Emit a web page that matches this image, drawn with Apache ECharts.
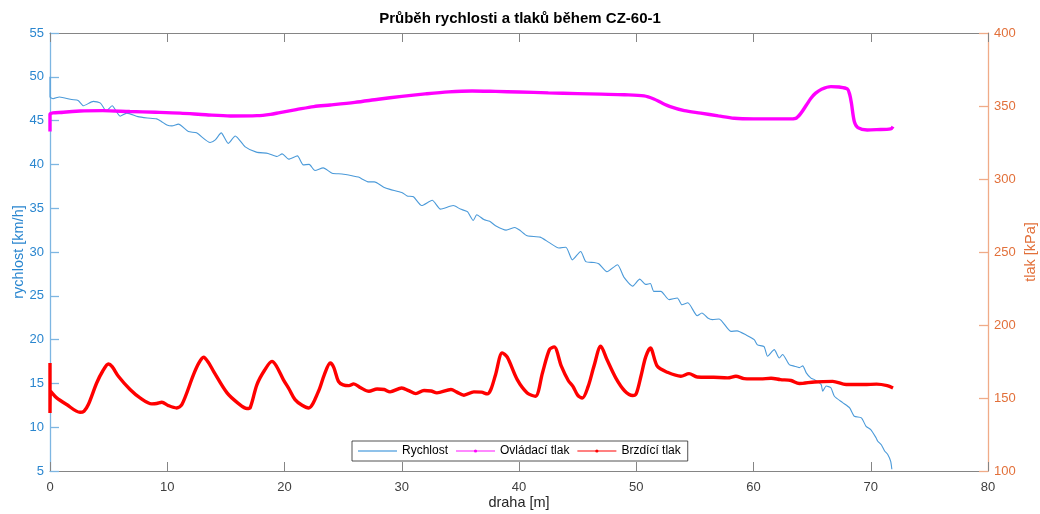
<!DOCTYPE html>
<html>
<head>
<meta charset="utf-8">
<script src="https://cdn.jsdelivr.net/npm/echarts@6/dist/echarts.min.js"></script>
<style>
html,body{margin:0;padding:0;background:#fff;}
#c{width:1040px;height:514px;}
</style>
</head>
<body>
<div id="c"></div>
<script>
// ---- data ----
const titleText = 'Průběh rychlosti a tlaků během CZ-60-1';
const seriesNames = ['Rychlost', 'Ovládací tlak', 'Brzdící tlak'];
const xTicks = [0, 10, 20, 30, 40, 50, 60, 70, 80];
const leftTicks = [5, 10, 15, 20, 25, 30, 35, 40, 45, 50, 55];
const rightTicks = [100, 150, 200, 250, 300, 350, 400];

// Rychlost [km/h] vs draha [m]
const speed = [
 [0,50.0],[0,47.7],[0.26,47.5],[0.8,47.7],[1.85,47.4],[2.4,47.3],[2.85,46.7],[3.7,47.2],[4.3,47.0],[4.8,46.1],
 [5.3,46.7],[5.98,45.5],[6.55,45.85],[7.5,45.45],[8.3,45.3],[9.1,45.2],[9.5,44.9],[9.97,44.5],[10.4,44.4],[10.95,44.6],
 [11.8,43.75],[12.5,43.6],[13.66,42.5],[14.1,42.8],[14.6,43.6],[15.2,42.4],[15.8,43.25],[16.65,42.0],[17.6,41.4],[18.6,41.25],
 [19.36,40.9],[19.8,41.2],[20.35,40.6],[21.1,40.97],[21.6,39.95],[22.1,40.0],[22.6,39.3],[23.3,39.6],[24.06,39.0],[24.9,38.9],
 [25.76,38.7],[26.3,38.55],[27.2,38.0],[27.66,38.0],[28.46,37.4],[29.0,37.15],[30.0,36.8],[30.46,36.4],[31.0,36.3],[31.7,35.3],
 [32.6,35.9],[33.3,34.9],[34.4,35.3],[35.0,34.9],[35.6,34.6],[36.1,33.6],[36.4,34.25],[37.0,33.7],[37.5,33.5],[38.0,33.0],
 [38.9,32.5],[39.65,32.8],[40.1,32.45],[40.7,31.85],[41.8,31.7],[42.55,31.1],[43.4,30.45],[44.0,30.55],[44.55,29.1],[45.26,30.06],
 [45.7,28.9],[46.4,28.8],[46.8,28.66],[47.5,27.75],[48.4,28.55],[48.96,27.1],[49.7,26.1],[50.3,26.9],[50.8,26.3],[51.2,26.4],
 [51.5,25.5],[52.1,25.5],[52.8,24.56],[53.5,24.75],[53.9,23.98],[54.4,24.2],[55.2,22.73],[55.6,23.04],[56.1,22.47],[56.5,22.28],
 [57.07,22.36],[58.07,20.94],[58.6,21.0],[59.4,20.5],[60.06,19.99],[60.34,19.4],[60.9,19.2],[61.2,18.1],[61.77,18.85],[62.2,17.9],
 [62.48,18.3],[63.05,17.15],[63.5,16.96],[63.9,16.8],[64.2,17.0],[64.5,16.2],[64.9,15.6],[65.2,15.43],[65.77,14.86],[65.9,14.1],
 [66.2,14.7],[66.6,14.5],[66.9,13.53],[67.6,12.8],[68.2,12.2],[68.6,11.25],[69.2,11.07],[69.6,10.1],[70.0,9.73],[70.45,8.8],
 [70.6,8.4],[70.9,8.0],[71.2,7.26],[71.45,6.88],[71.7,6.1],[71.8,5.2]
];

// Ovládací tlak [kPa]
const controlPressure = [
 [0,332.5],[0,344.4],[1.14,345.7],[2.56,346.6],[4.5,346.8],[6.8,346.2],[9,345.7],[11.1,345.1],[13.3,344],[15.4,343.2],
 [17.65,343.4],[18.8,344.3],[19.6,345.5],[21,347.5],[22.5,349.6],[23.9,350.7],[26,352.5],[28,354.6],[30,356.6],[32,358.3],
 [34,359.7],[36,360.3],[38,360],[40,359.6],[42.5,359],[45,358.5],[47,358.1],[49,357.7],[50.67,356.9],[51.5,354.8],
 [52.2,352],[52.9,349.6],[54.1,346.8],[55.5,345.1],[57,343.2],[58.35,341.6],[60,341.2],[61.2,341.2],[63,341.2],[63.6,341.6],
 [64.05,345.1],[64.5,350.5],[64.9,355.3],[65.3,358.8],[65.8,361.5],[66.6,363.3],[67.3,363],[68.0,361.7],[68.2,358],[68.35,352],
 [68.6,339.3],[68.9,335.2],[69.7,333.6],[70.5,333.8],[71.7,334.3],[71.9,335.9]
];

// Brzdící tlak [kPa]
const brakePressure = [
 [0,174],[0,139.8],[0.05,154.6],[0.57,150.1],[1.42,145.5],[2.56,140.2],[2.9,141],[3.27,145.5],[3.98,160.3],[4.5,168.5],
 [4.98,173.3],[5.3,171.5],[5.83,164.9],[6.83,155.8],[7.68,150.1],[8.68,146.0],[9.1,146.2],[9.54,147.1],[10.1,144.8],[10.8,143.2],
 [11.25,145.5],[12.24,166.0],[12.7,174],[13.1,177.9],[13.5,174.5],[13.95,168.3],[15.1,153.5],[16.08,146.2],[16.8,142.8],[17.08,143.5],
 [17.65,159.2],[18.3,169],[18.93,175.1],[19.3,172],[19.9,162.6],[20.4,156],[20.9,148.9],[21.5,145],[22.06,143.2],[22.9,154.6],
 [23.4,166],[23.9,174.0],[24.2,171],[24.6,161.4],[25.0,159],[25.5,158.5],[25.9,159.7],[26.5,157],[27.2,154.6],[27.9,156.2],
 [28.5,155.8],[29.0,154.2],[30.0,156.9],[30.6,155],[31.2,153.0],[31.9,155.1],[32.5,154.8],[33.0,153.5],[34.2,155.8],[34.7,154],
 [35.3,151.9],[36.15,154.2],[36.8,154],[37.3,152.8],[37.6,155.8],[38.0,166],[38.57,180.9],[39.0,178],[39.85,162.6],[40.7,153.5],
 [41.4,151.2],[42.0,167.2],[42.6,183.2],[43.0,185],[43.6,172],[44.2,162],[44.6,158],[45.0,152],[45.4,150],[45.9,158],
 [46.4,172],[46.97,185.4],[47.5,176.3],[48.25,163.8],[49.0,155],[49.7,151.7],[50.0,153],[50.4,164.9],[50.8,178],[51.2,184.3],
 [51.8,171.7],[52.66,167.6],[53.8,164.9],[54.5,166.7],[55.2,164.4],[56.6,164.2],[57.8,163.8],[58.5,164.9],[59.2,163.3],[60.6,163.1],
 [61.5,163.5],[62.3,162.6],[63.2,162],[63.9,159.9],[65.2,161],[66.75,161.4],[67.9,159.2],[69.45,159.2],[70.5,159.5],[71.4,158.5],
 [71.9,156.9]
];

// ---- chart ----
const FONT = '"Liberation Sans", Arial, Helvetica, sans-serif';
const chart = echarts.init(document.getElementById('c'), null, {renderer: 'canvas'});

const gray = '#858585';
const blueText = '#2a86cf';
const blueLine = '#7db6e2';
const orangeText = '#e2703a';
const orangeLine = '#f0ab88';

const option = {
  animation: false,
  backgroundColor: '#ffffff',
  textStyle: {fontFamily: FONT},
  title: {
    text: titleText,
    left: 'center',
    top: 11,
    padding: 0,
    textStyle: {fontSize: 15, fontWeight: 'bold', color: '#000', fontFamily: FONT}
  },
  legend: {
    data: [
      {name: seriesNames[0], lineStyle: {color: '#8fc2ea', width: 2}},
      {name: seriesNames[1], lineStyle: {color: '#ff88ff', width: 2}},
      {name: seriesNames[2], lineStyle: {color: '#ff8080', width: 2}}
    ],
    left: 352,
    top: 441,
    orient: 'horizontal',
    itemWidth: 39,
    itemHeight: 4,
    itemGap: 7,
    padding: [3, 7, 3, 5],
    borderColor: '#262626',
    borderWidth: 0.8,
    backgroundColor: '#ffffff',
    textStyle: {fontSize: 12, color: '#000', fontFamily: FONT, lineHeight: 14}
  },
  grid: {left: 50, right: 52, top: 33, bottom: 43, containLabel: false, outerBoundsMode: 'none'},
  xAxis: [
    {
      type: 'value', min: 0, max: 80, interval: 10, position: 'bottom',
      name: 'draha [m]', nameLocation: 'middle', nameGap: 24, nameMoveOverlap: false,
      nameTextStyle: {fontSize: 14.5, color: '#262626', fontFamily: FONT, verticalAlign: 'top'},
      axisLine: {show: true, onZero: false, lineStyle: {color: gray, width: 1}},
      axisTick: {show: true, inside: true, length: 9, lineStyle: {color: gray}},
      axisLabel: {fontSize: 13, color: '#404040', margin: 10, fontFamily: FONT,
        formatter: v => xTicks.includes(v) ? String(v) : ''},
      splitLine: {show: false}
    },
    {
      type: 'value', min: 0, max: 80, interval: 10, position: 'top',
      axisLine: {show: true, onZero: false, lineStyle: {color: gray, width: 1}},
      axisTick: {show: true, inside: true, length: 9, lineStyle: {color: gray}},
      axisLabel: {show: false},
      splitLine: {show: false}
    }
  ],
  yAxis: [
    {
      type: 'value', min: 5, max: 55, interval: 5, position: 'left',
      name: 'rychlost [km/h]', nameLocation: 'middle', nameGap: 24, nameRotate: 90, nameMoveOverlap: false,
      nameTextStyle: {fontSize: 14.5, color: blueText, fontFamily: FONT},
      axisLine: {show: true, onZero: false, lineStyle: {color: blueLine, width: 1.3}},
      axisTick: {show: true, inside: true, length: 9, lineStyle: {color: blueLine, width: 1.3}},
      axisLabel: {fontSize: 13, color: blueText, margin: 6, fontFamily: FONT,
        formatter: v => leftTicks.includes(v) ? String(v) : ''},
      splitLine: {show: false}
    },
    {
      type: 'value', min: 100, max: 400, interval: 50, position: 'right',
      name: 'tlak [kPa]', nameLocation: 'middle', nameGap: 35, nameRotate: 90, nameMoveOverlap: false,
      nameTextStyle: {fontSize: 14.5, color: orangeText, fontFamily: FONT},
      axisLine: {show: true, onZero: false, lineStyle: {color: orangeLine, width: 1.3}},
      axisTick: {show: true, inside: true, length: 9, lineStyle: {color: orangeLine, width: 1.3}},
      axisLabel: {fontSize: 13, color: orangeText, margin: 6, fontFamily: FONT,
        formatter: v => rightTicks.includes(v) ? String(v) : ''},
      splitLine: {show: false}
    }
  ],
  series: [
    {
      name: seriesNames[0], type: 'line', xAxisIndex: 0, yAxisIndex: 0,
      data: speed, showSymbol: false, symbol: 'none', smooth: 0.2,
      lineStyle: {color: '#4b9ad9', width: 1.1},
      itemStyle: {color: 'rgba(0,0,0,0)'}, z: 2
    },
    {
      name: seriesNames[1], type: 'line', xAxisIndex: 0, yAxisIndex: 1,
      data: controlPressure, showSymbol: false, symbol: 'circle', symbolSize: 4, smooth: 0.3,
      lineStyle: {color: '#ff00ff', width: 3.4},
      itemStyle: {color: '#ff00ff'}, z: 3
    },
    {
      name: seriesNames[2], type: 'line', xAxisIndex: 0, yAxisIndex: 1,
      data: brakePressure, showSymbol: false, symbol: 'circle', symbolSize: 4, smooth: 0.3,
      lineStyle: {color: '#ff0000', width: 3.4},
      itemStyle: {color: '#ff0000'}, z: 4
    }
  ]
};
chart.setOption(option);
</script>
</body>
</html>
